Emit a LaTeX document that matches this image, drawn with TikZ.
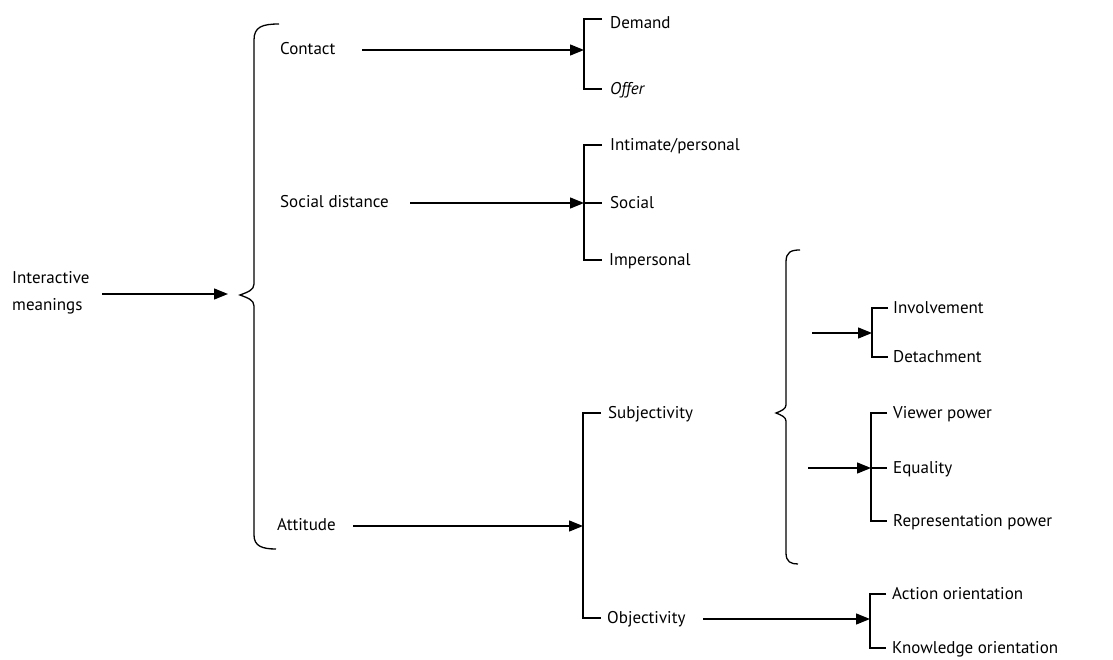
\documentclass[tikz,border=0pt]{standalone}
\usepackage{fontspec}
\setmainfont{PT Sans}
\usetikzlibrary{arrows.meta}
\begin{document}
\begin{tikzpicture}[x=1pt,y=-1pt,
  lbl/.style={anchor=west,inner sep=0pt,font=\fontsize{17}{28}\selectfont,text height=11.5pt,text depth=0pt},
  ln/.style={line width=1.3pt},
  arr/.style={ln,-{Triangle[length=14pt,width=11pt]}},
  brk/.style={line width=1.3pt,line join=miter}]
\useasboundingbox (0,0) rectangle (1113,660);
% texts
\node[lbl] (im) at (12,278) {Interactive};
\node[lbl] (im2) at (12,305) {meanings};
\node[lbl] (contact) at (280,49) {Contact};
\node[lbl] (socdist) at (280,202) {Social distance};
\node[lbl] (attitude) at (277,525) {Attitude};
\node[lbl] (demand) at (610,23) {Demand};
\node[lbl] (offer) at (610,89) {\itshape Offer};
\node[lbl] (intim) at (610,145) {Intimate/personal};
\node[lbl] (social) at (610,203) {Social};
\node[lbl] (imper) at (609,260) {Impersonal};
\node[lbl] (subj) at (608,413) {Subjectivity};
\node[lbl] (obj) at (607,618) {Objectivity};
\node[lbl] (invol) at (893,308) {Involvement};
\node[lbl] (detach) at (893,357) {Detachment};
\node[lbl] (viewer) at (893,413) {Viewer power};
\node[lbl] (equal) at (893,468) {Equality};
\node[lbl] (repr) at (893,521) {Representation power};
\node[lbl] (action) at (892,594) {Action orientation};
\node[lbl] (knowl) at (892,648) {Knowledge orientation};
% coordinates
\coordinate (imS) at (102,294);
\coordinate (b1) at (228,294);
\coordinate (cS) at (362,50);
\coordinate (b2) at (584,50);
\coordinate (sS) at (410,203);
\coordinate (b3) at (584,203);
\coordinate (aS) at (353,526);
\coordinate (b4) at (583,526);
\coordinate (b6s) at (812,333);
\coordinate (b6) at (872,333);
\coordinate (b7s) at (808,468);
\coordinate (b7) at (871,468);
\coordinate (oS) at (703,619);
\coordinate (b8) at (870,619);
% big brace
\draw[ln] (279,24) .. controls (262,24) and (254,27) .. (254,40)
  -- (254,284) .. controls (254,290) and (248,292) .. (240,295)
  .. controls (248,298) and (254,300) .. (254,306)
  -- (254,535) .. controls (254,546) and (262,549) .. (276,549);
% second brace
\draw[ln] (800,250) .. controls (791,250) and (786,252) .. (786,262)
  -- (786,405) .. controls (786,409) and (781,411) .. (776,413)
  .. controls (781,415) and (786,417) .. (786,421)
  -- (786,553) .. controls (786,562) and (791,564) .. (798,564);
% arrows
\draw[arr] (imS) -- (b1);
\draw[arr] (cS) -- (b2);
\draw[arr] (sS) -- (b3);
\draw[arr] (aS) -- (b4);
\draw[arr] (b6s) -- (b6);
\draw[arr] (b7s) -- (b7);
\draw[arr] (oS) -- (b8);
% brackets
\draw[brk] (602,19) -- (584,19) -- (584,89) -- (602,89);
\draw[brk] (602,145) -- (584,145) -- (584,260) -- (602,260);
\draw[brk] (584,203) -- (602,203);
\draw[brk] (601,413) -- (583,413) -- (583,618) -- (601,618);
\draw[brk] (888,308) -- (872,308) -- (872,357) -- (888,357);
\draw[brk] (887,413) -- (871,413) -- (871,521) -- (887,521);
\draw[brk] (871,468) -- (887,468);
\draw[brk] (886,594) -- (870,594) -- (870,648) -- (886,648);
\end{tikzpicture}
\end{document}
